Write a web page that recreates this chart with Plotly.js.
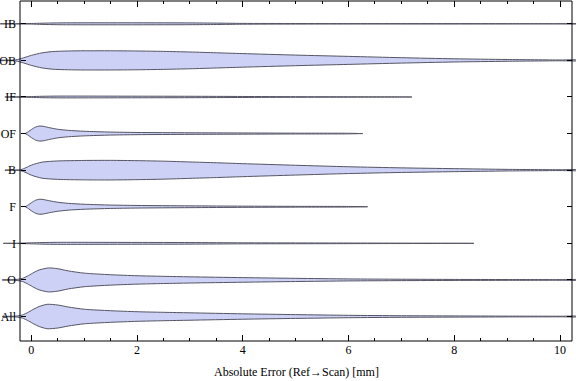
<!DOCTYPE html>
<html>
<head>
<meta charset="utf-8">
<script src="https://cdn.plot.ly/plotly-3.0.1.min.js"></script>
<style>html,body{margin:0;padding:0;background:#fff}#chart{width:576px;height:381px}</style>
</head>
<body>
<div id="chart"></div>
<script>
// Categories, top to bottom
const categories = ['IB', 'OB', 'IF', 'OF', 'B', 'F', 'I', 'O', 'All'];

// Error grid (mm) and relative density (violin half-width) for each category
const errIB = [-0.59, -0.3, 0, 0.2, 0.5, 1, 2, 3, 3.5, 4, 5, 6, 7, 8, 9, 10, 10.4];
const denIB = [0, 0.1, 0.3, 0.6, 0.9, 1.0, 1.0, 0.9, 0.7, 0.4, 0.3, 0.2, 0.2, 0.2, 0.15, 0.1, 0.1];

const errOB = [-0.59, -0.3, -0.15, 0, 0.2, 0.4, 0.7, 1, 1.5, 2, 2.5, 3, 3.5, 4, 5, 6, 7, 8, 9, 10, 10.4];
const denOB = [0.3, 0.5, 2.5, 5, 7.5, 8.8, 9.4, 9.6, 9.6, 9.4, 9.0, 8.4, 7.6, 6.8, 5.3, 4.0, 2.7, 1.6, 0.9, 0.4, 0.3];

const errIF = [-0.5, -0.2, 0, 0.2, 0.5, 1, 2, 3, 4, 5, 6, 7, 7.2];
const denIF = [0, 0.2, 0.4, 0.7, 0.9, 0.9, 0.8, 0.7, 0.5, 0.3, 0.2, 0.1, 0];

const errOF = [-0.11, -0.05, 0, 0.08, 0.15, 0.22, 0.35, 0.5, 0.7, 1, 1.5, 2, 3, 4, 5, 6, 6.27];
const denOF = [0.2, 2, 4, 6.5, 7.5, 7.3, 5.8, 4.3, 3.2, 2.3, 1.5, 1.1, 0.8, 0.6, 0.4, 0.3, 0];

const errB = [-0.5, -0.2, -0.1, 0, 0.2, 0.5, 1, 1.5, 2, 2.5, 3, 3.5, 4, 5, 6, 7, 8, 9, 10, 10.4];
const denB = [0.2, 0.5, 2.5, 5, 8, 9.2, 9.7, 9.8, 9.5, 9.0, 8.2, 7.4, 6.5, 4.9, 3.4, 2.3, 1.5, 0.8, 0.4, 0.3];

const errF = [-0.11, -0.05, 0, 0.08, 0.15, 0.22, 0.35, 0.5, 0.7, 1, 1.5, 2, 3, 4, 5, 6, 6.36];
const denF = [0.2, 2, 4, 6.5, 7.5, 7.3, 5.9, 4.5, 3.4, 2.5, 1.7, 1.3, 0.9, 0.6, 0.4, 0.3, 0];

const errI = [-0.53, -0.2, 0, 0.2, 0.5, 1, 2, 3, 4, 5, 6, 7, 8, 8.37];
const denI = [0, 0.2, 0.5, 0.8, 1.0, 1.0, 0.9, 0.8, 0.5, 0.4, 0.3, 0.2, 0.15, 0];

const errO = [-0.55, -0.3, -0.17, -0.05, 0.05, 0.15, 0.33, 0.5, 0.7, 1, 1.5, 2, 2.5, 3, 4, 5, 6, 7, 8, 9, 10, 10.4];
const denO = [0.2, 0.4, 1.5, 4.5, 7.5, 10, 12, 11.2, 9, 6.8, 5.2, 4.2, 3.6, 3.1, 2.3, 1.6, 1.0, 0.7, 0.5, 0.4, 0.3, 0.2];

const errAll = [-0.55, -0.3, -0.17, -0.05, 0.05, 0.15, 0.3, 0.5, 0.7, 1, 1.5, 2, 2.5, 3, 4, 5, 6, 7, 8, 9, 10, 10.4];
const denAll = [0.2, 0.4, 1.5, 4.5, 7.5, 10, 12.2, 11.5, 9.5, 7.3, 5.8, 4.8, 4.2, 3.7, 2.7, 1.9, 1.2, 0.8, 0.6, 0.4, 0.3, 0.2];

const xTickVals = [0, 2, 4, 6, 8, 10];
const xTitle = 'Absolute Error (Ref\u2192Scan) [mm]';

const errs = [errIB, errOB, errIF, errOF, errB, errF, errI, errO, errAll];
const dens = [denIB, denOB, denIF, denOF, denB, denF, denI, denO, denAll];

const DEN_SCALE = 1 / 36.6;   // density units -> category units
const nCat = categories.length;
const catPos = categories.map((c, i) => nCat - 1 - i);

const traces = categories.map((c, i) => {
  const e = errs[i], d = dens[i], yc = catPos[i];
  const up = e.map((v, k) => yc + d[k] * DEN_SCALE);
  const dn = e.map((v, k) => yc - d[k] * DEN_SCALE);
  return {
    type: 'scatter', mode: 'lines', name: c,
    x: e.concat(e.slice().reverse()),
    y: up.concat(dn.slice().reverse()),
    fill: 'toself', fillcolor: 'rgb(204,209,245)',
    line: {color: 'rgb(85,85,100)', width: 1, shape: 'spline', smoothing: 0.7},
    hoverinfo: 'skip', showlegend: false
  };
});
// helper trace so the mirrored right-hand axis is drawn
traces.push({type: 'scatter', mode: 'markers', x: [errAll[0]], y: [catPos[nCat - 1]], yaxis: 'y2',
  marker: {opacity: 0}, hoverinfo: 'skip', showlegend: false});

const W = 576, frameL = 20, frameR = 572;
const x0px = 31.3, pxPerUnit = 52.87;
const xr = [(0 - x0px) / pxPerUnit, (W - x0px) / pxPerUnit];
const frameX0 = (frameL - x0px) / pxPerUnit, frameX1 = (frameR - x0px) / pxPerUnit;
const yRange = [-0.669, 8.623];

const font = {family: '"Liberation Serif", "Times New Roman", serif', size: 12, color: '#000'};
const minorVals = [];
for (let k = 1; k <= 20; k++) minorVals.push(k * 0.5);

const layout = {
  width: 576, height: 381,
  margin: {l: 0, r: 0, t: 1, b: 40, pad: 0},
  paper_bgcolor: '#fff', plot_bgcolor: '#fff',
  font: font,
  showlegend: false,
  xaxis: {
    range: xr, showgrid: false, zeroline: false, showline: false,
    tickmode: 'array', tickvals: xTickVals, ticktext: xTickVals.map(String),
    ticks: 'inside', ticklen: 6, tickwidth: 1, tickcolor: '#000', mirror: 'ticks',
    minor: {tickmode: 'array', tickvals: minorVals, ticks: 'inside', ticklen: 3, tickwidth: 1, tickcolor: '#000', showgrid: false},
    tickfont: font, fixedrange: true
  },
  yaxis: {
    range: yRange, anchor: 'free', position: frameL / W, side: 'left',
    showgrid: false, zeroline: false, showline: false,
    tickmode: 'array', tickvals: catPos, ticktext: categories,
    ticks: 'inside', ticklen: 5, tickwidth: 1, tickcolor: '#000',
    ticklabelstandoff: 4,
    tickfont: font, fixedrange: true
  },
  yaxis2: {
    range: yRange, overlaying: 'y', anchor: 'free', position: frameR / W, side: 'right',
    showgrid: false, zeroline: false, showline: false,
    tickmode: 'array', tickvals: catPos, showticklabels: false,
    ticks: 'inside', ticklen: 5, tickwidth: 1, tickcolor: '#000', fixedrange: true
  },
  shapes: [{
    type: 'rect', xref: 'x', yref: 'paper', x0: frameX0, x1: frameX1, y0: 0, y1: 1,
    line: {color: '#000', width: 1}, fillcolor: 'rgba(0,0,0,0)', layer: 'above'
  }],
  annotations: [{
    text: xTitle, xref: 'x', yref: 'paper', x: (frameX0 + frameX1) / 2, y: 0,
    xanchor: 'center', yanchor: 'middle', yshift: -30.5, showarrow: false, font: font
  }]
};

Plotly.newPlot('chart', traces, layout, {displayModeBar: false, staticPlot: true});
</script>
</body>
</html>
